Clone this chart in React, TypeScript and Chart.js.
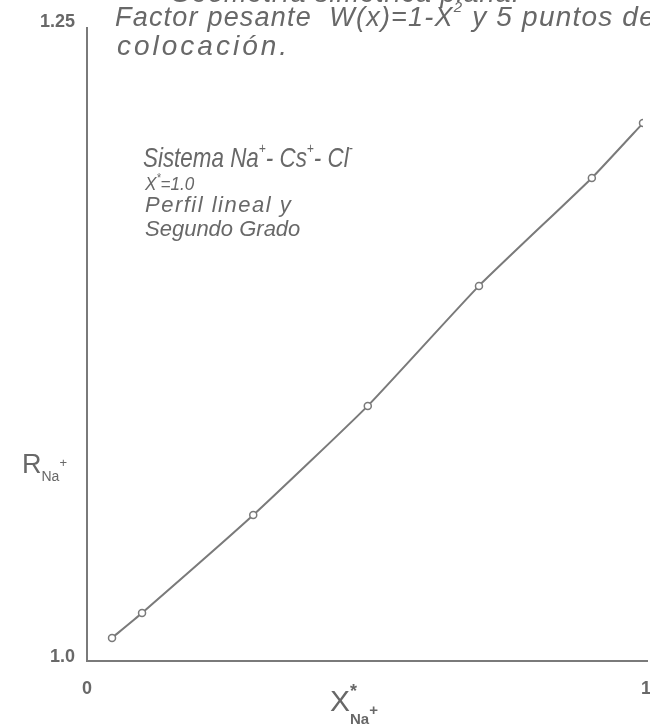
import React, { useEffect, useRef } from "react";
import { Chart, registerables } from "chart.js";

Chart.register(...registerables);

// Mole fraction of Na+ and the computed ratio R for each collocation point
const xNa = [0.045, 0.099, 0.299, 0.505, 0.705, 0.908, 1.0];
const rNa = [1.009, 1.0187, 1.0569, 1.0995, 1.1463, 1.1884, 1.2098];

const xTickValues = [0, 1];
const xTickLabels = ["0", "1"];
const yTickValues = [1.0, 1.25];
const yTickLabels = ["1.0", "1.25"];

const INK = "#686868";
const LINE = "#7a7a7a";
const HAND = "'Liberation Sans', 'DejaVu Sans', sans-serif";

type Run = { t: string; size: number; dy?: number; italic?: boolean; bold?: boolean };

// Draws a sequence of text pieces (with raised/lowered pieces) horizontally scaled by sx
function drawRuns(ctx: CanvasRenderingContext2D, x: number, y: number, runs: Run[], sx = 1, spacing = 0) {
  ctx.save();
  ctx.translate(x, y);
  ctx.scale(sx, 1);
  (ctx as any).letterSpacing = `${spacing}px`;
  let cx = 0;
  for (const r of runs) {
    ctx.font = `${r.italic === false ? "" : "italic "}${r.bold ? "bold " : ""}${r.size}px ${HAND}`;
    ctx.fillText(r.t, cx, r.dy || 0);
    cx += ctx.measureText(r.t).width;
  }
  ctx.restore();
}

const annotations = {
  id: "annotations",
  afterDraw(chart: Chart) {
    const ctx = chart.ctx;
    const xs = chart.scales.x;
    const ys = chart.scales.y;
    const x0 = xs.getPixelForValue(0);
    const y0 = ys.getPixelForValue(1.0);
    const yTop = ys.getPixelForValue(1.25);
    ctx.save();

    // axes
    ctx.strokeStyle = LINE;
    ctx.lineWidth = 2;
    ctx.beginPath();
    ctx.moveTo(x0, yTop + 7);
    ctx.lineTo(x0, y0);
    ctx.lineTo(xs.getPixelForValue(1) + 5, y0);
    ctx.stroke();

    ctx.fillStyle = INK;
    ctx.textBaseline = "middle";

    // tick labels
    ctx.font = `bold 18px ${HAND}`;
    ctx.textAlign = "right";
    yTickValues.forEach((v, i) => {
      ctx.fillText(yTickLabels[i], x0 - 12, ys.getPixelForValue(v) + (i === 0 ? -4 : 2));
    });
    ctx.textAlign = "center";
    xTickValues.forEach((v, i) => {
      ctx.fillText(xTickLabels[i], xs.getPixelForValue(v) + (i === 1 ? 3 : 0), y0 + 28);
    });

    ctx.textAlign = "left";
    ctx.textBaseline = "alphabetic";

    // header lines
    drawRuns(ctx, 170, 2, [{ t: "Geometría simétrica plana.", size: 27 }], 1, 1);
    drawRuns(ctx, 115, 26, [
      { t: "Factor pesante  W(x)=1-X", size: 27 },
      { t: "2", size: 15, dy: -14 },
      { t: " y 5 puntos de", size: 28 },
    ], 1, 1.2);
    drawRuns(ctx, 117, 55, [{ t: "colocación.", size: 28 }], 1, 3);

    // system description
    drawRuns(ctx, 143, 167, [
      { t: "Sistema Na", size: 28 },
      { t: "+", size: 15, dy: -14 },
      { t: "- Cs", size: 28 },
      { t: "+", size: 15, dy: -14 },
      { t: "- Cl", size: 28 },
      { t: "-", size: 15, dy: -14 },
    ], 0.8);
    drawRuns(ctx, 145, 190, [
      { t: "X", size: 19 },
      { t: "*", size: 12, dy: -8 },
      { t: "=1.0", size: 19 },
    ], 0.9);
    drawRuns(ctx, 145, 212, [{ t: "Perfil lineal y", size: 22 }], 1, 1.5);
    drawRuns(ctx, 145, 236, [{ t: "Segundo Grado", size: 22 }]);

    // axis titles
    drawRuns(ctx, 22, 473, [
      { t: "R", size: 27, italic: false },
      { t: "Na", size: 14, dy: 8, italic: false },
      { t: "+", size: 13, dy: -6, italic: false },
    ]);
    drawRuns(ctx, 330, 711, [
      { t: "X", size: 30, italic: false },
      { t: "*", size: 18, dy: -14, italic: false, bold: true },
    ]);
    drawRuns(ctx, 350, 724, [
      { t: "Na", size: 15, italic: false, bold: true },
      { t: "+", size: 15, dy: -9, italic: false, bold: true },
    ]);

    ctx.restore();
  },
};

export default function App() {
  const ref = useRef<HTMLCanvasElement>(null);

  useEffect(() => {
    if (!ref.current) return;
    const chart = new Chart(ref.current, {
      type: "scatter",
      data: {
        datasets: [
          {
            data: xNa.map((x, i) => ({ x, y: rNa[i] })),
            showLine: true,
            borderColor: LINE,
            borderWidth: 2,
            tension: 0.15,
            pointRadius: 3.5,
            pointBorderWidth: 1.5,
            pointBackgroundColor: "#ffffff",
            pointBorderColor: LINE,
          },
        ],
      },
      options: {
        responsive: false,
        animation: false,
        layout: { padding: { left: 87, right: 7, top: 20, bottom: 65 } },
        plugins: { legend: { display: false }, tooltip: { enabled: false } },
        scales: {
          x: { type: "linear", min: 0, max: 1, display: false },
          y: { type: "linear", min: 1.0, max: 1.25, display: false },
        },
      },
      plugins: [annotations],
    });
    return () => chart.destroy();
  }, []);

  return (
    <div style={{ position: "absolute", left: 0, top: 0, width: 650, height: 726, background: "#ffffff" }}>
      <canvas ref={ref} width={650} height={726} style={{ width: 650, height: 726 }} />
    </div>
  );
}
